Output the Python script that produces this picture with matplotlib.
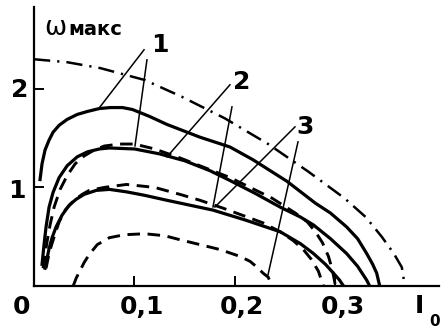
import numpy as np
import matplotlib
matplotlib.use('Agg')
from matplotlib import pyplot as plt

# curve data (I0, omega_max)
dd_x = [0, 0.033, 0.066, 0.11, 0.147, 0.19, 0.233, 0.273, 0.309, 0.33, 0.346, 0.358, 0.366, 0.369]
dd_y = [2.30, 2.27, 2.21, 2.09, 1.92, 1.70, 1.44, 1.16, 0.89, 0.70, 0.50, 0.33, 0.19, 0.0]

s1_x = [0.006, 0.008, 0.011, 0.015, 0.019, 0.025, 0.033, 0.043, 0.053, 0.065, 0.076, 0.088, 0.098, 0.115, 0.132,
        0.165, 0.195, 0.218, 0.252, 0.28, 0.295, 0.311, 0.322, 0.331, 0.337, 0.341, 0.344]
s1_y = [1.08, 1.24, 1.38, 1.48, 1.56, 1.63, 1.69, 1.74, 1.77, 1.80, 1.81, 1.81, 1.79, 1.72, 1.64,
        1.51, 1.41, 1.28, 1.06, 0.84, 0.74, 0.60, 0.48, 0.33, 0.22, 0.13, 0.0]

s2_x = [0.008, 0.010, 0.012, 0.015, 0.019, 0.025, 0.033, 0.043, 0.053, 0.065, 0.075, 0.10, 0.125, 0.15, 0.175, 0.195,
        0.22, 0.245, 0.265, 0.278, 0.295, 0.311, 0.322, 0.331, 0.334]
s2_y = [0.22, 0.42, 0.60, 0.80, 0.95, 1.10, 1.22, 1.31, 1.36, 1.39, 1.40, 1.39, 1.34, 1.27, 1.17, 1.07,
        0.94, 0.80, 0.70, 0.62, 0.48, 0.33, 0.20, 0.06, 0.0]

d2_x = [0.009, 0.011, 0.013, 0.016, 0.02, 0.026, 0.033, 0.041, 0.05, 0.06, 0.07, 0.085, 0.10, 0.12, 0.145, 0.17,
        0.195, 0.215, 0.237, 0.26, 0.272, 0.28, 0.287, 0.293, 0.297, 0.30]
d2_y = [0.18, 0.32, 0.45, 0.62, 0.80, 0.98, 1.12, 1.24, 1.32, 1.38, 1.42, 1.44, 1.44, 1.39, 1.30, 1.20,
        1.10, 1.00, 0.89, 0.74, 0.65, 0.55, 0.44, 0.30, 0.16, 0.0]

s3_x = [0.011, 0.013, 0.015, 0.018, 0.022, 0.028, 0.035, 0.042, 0.05, 0.062, 0.075, 0.092, 0.11, 0.132, 0.155, 0.178,
        0.21, 0.245, 0.265, 0.278, 0.29, 0.298, 0.304, 0.308]
s3_y = [0.18, 0.28, 0.38, 0.49, 0.60, 0.72, 0.82, 0.88, 0.93, 0.97, 0.98, 0.955, 0.92, 0.87, 0.82, 0.77,
        0.67, 0.55, 0.43, 0.33, 0.22, 0.13, 0.06, 0.0]

d3_x = [0.012, 0.014, 0.017, 0.021, 0.025, 0.031, 0.04, 0.048, 0.055, 0.07, 0.092, 0.12, 0.145, 0.165, 0.188,
        0.212, 0.228, 0.245, 0.258, 0.268, 0.276, 0.283, 0.288]
d3_y = [0.18, 0.28, 0.40, 0.53, 0.65, 0.77, 0.87, 0.93, 0.97, 1.00, 1.03, 1.00, 0.93, 0.87, 0.79,
        0.70, 0.64, 0.55, 0.46, 0.37, 0.27, 0.15, 0.0]

d4_x = [0.039, 0.042, 0.046, 0.05, 0.055, 0.063, 0.075, 0.09, 0.11, 0.13, 0.145, 0.165, 0.185, 0.205, 0.215,
        0.222, 0.228, 0.233, 0.237]
d4_y = [0.0, 0.08, 0.16, 0.24, 0.32, 0.42, 0.49, 0.52, 0.53, 0.51, 0.47, 0.42, 0.37, 0.30, 0.25,
        0.19, 0.13, 0.09, 0.0]

# leader lines: (label end) -> (curve end)
leaders = [((0.1095, 2.396), (0.0657, 1.817)),
           ((0.1124, 2.294), (0.1005, 1.421)),
           ((0.1950, 2.041), (0.1323, 1.310)),
           ((0.1970, 1.817), (0.1781, 0.802)),
           ((0.2597, 1.614), (0.1801, 0.802)),
           ((0.2627, 1.462), (0.2328, 0.112))]
labels = [('1', 0.1254, 2.447), ('2', 0.207, 2.071), ('3', 0.2697, 1.614)]

xticks = [0.1, 0.2, 0.3]
xticklabels = ['0,1', '0,2', '0,3']
yticks = [1, 2]

fnt = ['Liberation Sans Narrow', 'DejaVu Sans']

fig = plt.figure(figsize=(4.47, 3.31), dpi=100)
ax = fig.add_axes([34 / 447, 45 / 331, 405 / 447, 279 / 331])
ax.set_xlim(0, 0.403)
ax.set_ylim(0, 2.83)

k = 'black'
dash = (0, (4.3, 2.6))
ax.plot(dd_x, dd_y, color=k, lw=1.8, ls=(0, (6.5, 2.8, 0.9, 2.8)), solid_capstyle='butt')
ax.plot(s1_x, s1_y, color=k, lw=2.3)
ax.plot(s2_x, s2_y, color=k, lw=2.3)
ax.plot(d2_x, d2_y, color=k, lw=2.1, ls=dash)
ax.plot(s3_x, s3_y, color=k, lw=2.3)
ax.plot(d3_x, d3_y, color=k, lw=2.1, ls=dash)
ax.plot(d4_x, d4_y, color=k, lw=2.1, ls=dash)

for (a, b) in leaders:
    ax.plot([a[0], b[0]], [a[1], b[1]], color=k, lw=1.1)
for t, x, y in labels:
    ax.text(x, y, t, ha='center', va='center', fontsize=18, family=fnt, weight='bold')

for s in ['top', 'right']:
    ax.spines[s].set_visible(False)
for s in ['left', 'bottom']:
    ax.spines[s].set_linewidth(1.6)

ax.set_xticks(xticks)
ax.set_xticklabels([])
ax.set_yticks(yticks)
ax.set_yticklabels([])
ax.tick_params(direction='in', length=7, width=1.4)

# tick labels placed by hand (offset like in the scan)
for lab, x in zip(xticklabels, xticks):
    ax.text(x + 0.007, -0.21, lab, ha='center', va='center', fontsize=18, family=fnt, weight='bold')
ax.text(-0.012, -0.21, '0', ha='center', va='center', fontsize=18, family=fnt, weight='bold', clip_on=False)
ax.text(-0.017, 0.96, '1', ha='center', va='center', fontsize=18, family=fnt, weight='bold', clip_on=False)
ax.text(-0.014, 1.99, '2', ha='center', va='center', fontsize=18, family=fnt, weight='bold', clip_on=False)
ax.text(0.383, -0.2, 'I', ha='center', va='center', fontsize=18, family=fnt, weight='bold', clip_on=False)
ax.text(0.399, -0.365, '0', ha='center', va='center', fontsize=11, family=fnt, weight='bold', clip_on=False)

ax.text(0.021, 2.62, 'ω', ha='center', va='center', fontsize=19, family=fnt, clip_on=False)
ax.text(0.034, 2.60, 'макс', ha='left', va='center', fontsize=14, family=fnt, weight='bold', clip_on=False)

fig.savefig('out.png', dpi=100)
